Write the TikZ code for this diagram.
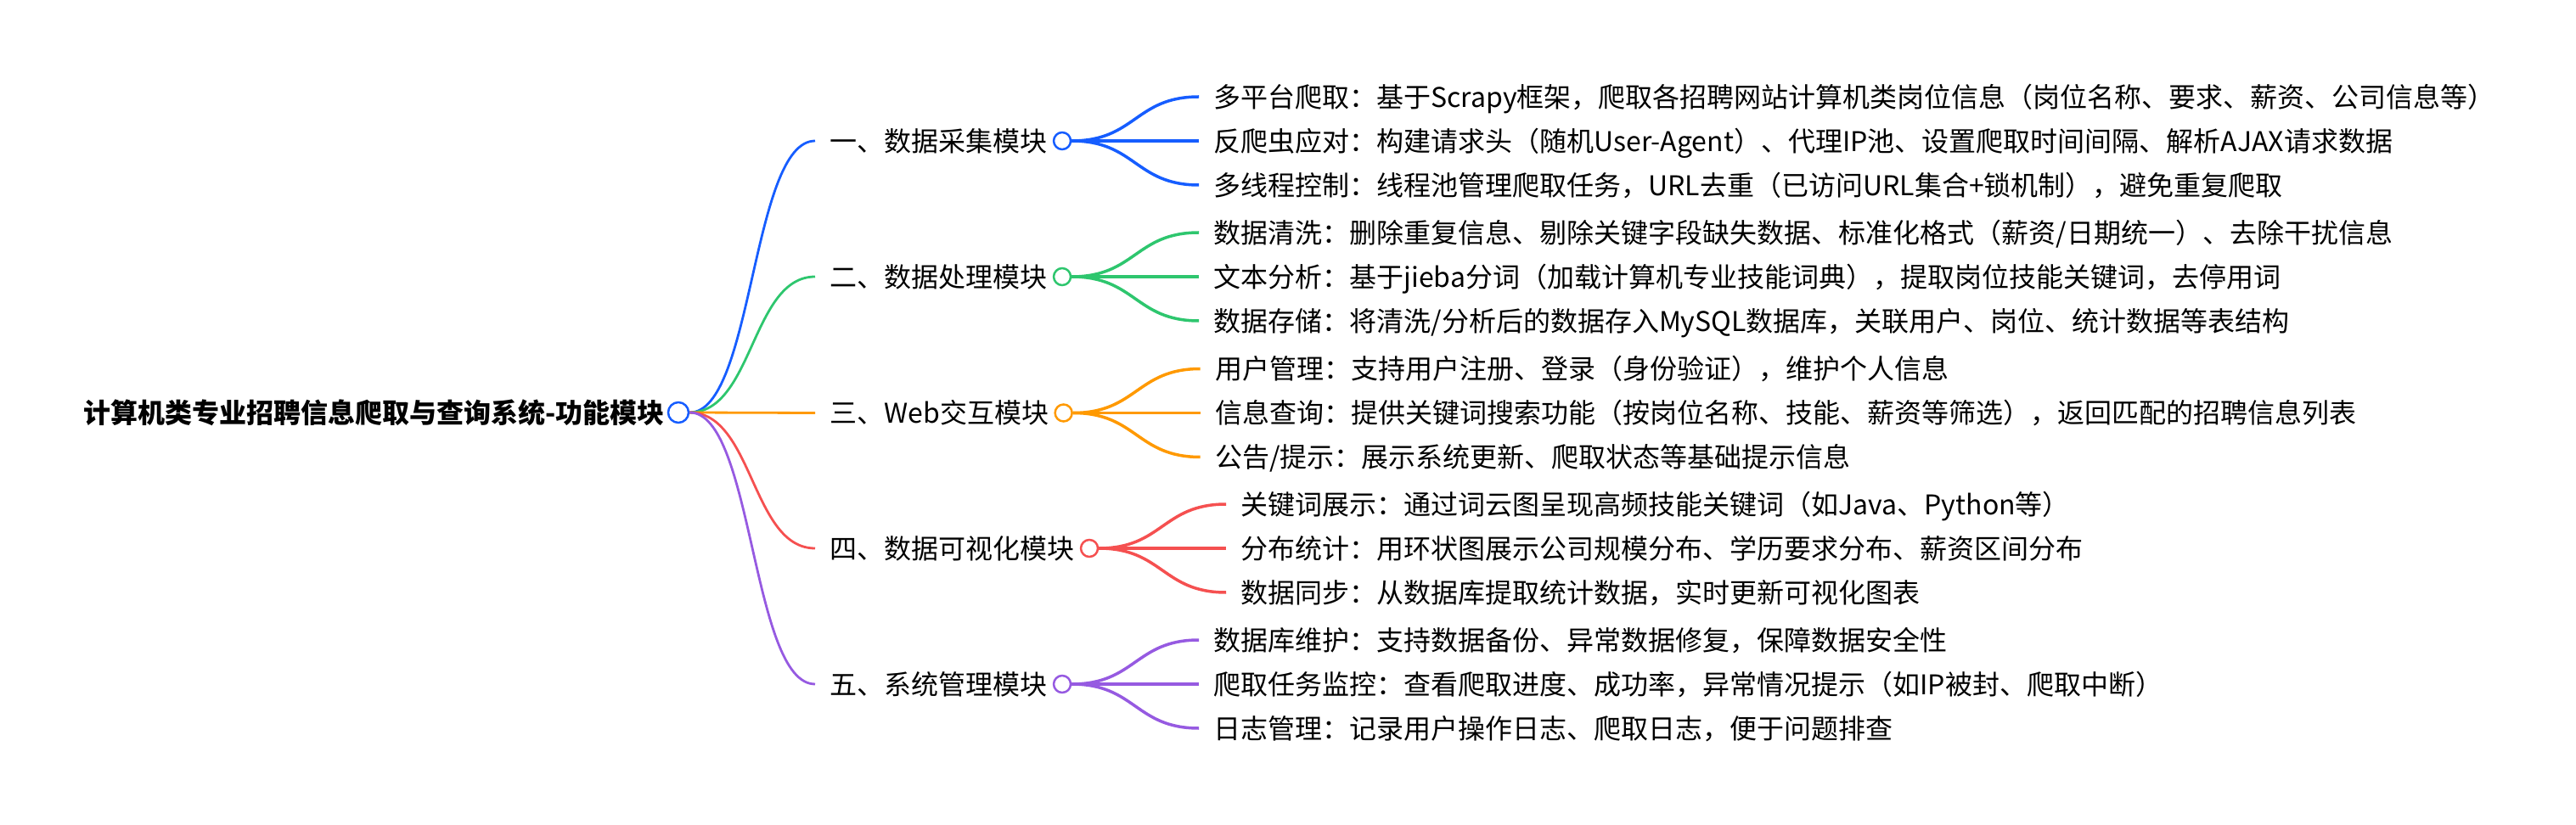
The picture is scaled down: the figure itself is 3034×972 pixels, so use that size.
\documentclass[tikz,border=0pt]{standalone}
\usepackage{fontspec}
\setmainfont{Noto Sans CJK SC}
\usetikzlibrary{positioning,calc}
\definecolor{brblue}{RGB}{22,93,255}
\definecolor{brgreen}{RGB}{46,198,110}
\definecolor{brorange}{RGB}{255,153,0}
\definecolor{brred}{RGB}{245,80,80}
\definecolor{brpurple}{RGB}{150,90,225}

\begin{document}
\begin{tikzpicture}[x=0.5pt,y=-0.5pt,font=\fontsize{16}{19}\selectfont,
  txt/.style={anchor=west,inner sep=0pt,text height=14pt,text depth=1.8pt},
  dot/.style={draw,circle,fill=white,line width=1.25pt,minimum size=10pt,inner sep=0pt},
  lnk/.style={line width=1.4pt},
  leaf/.style={line width=1.75pt}]
\useasboundingbox (0,0) rectangle (3034,972);
% root
\node[dot,draw=brblue,minimum size=12pt] (root) at (799,486) {};
\node[txt,anchor=east,font=\fontsize{16}{19}\selectfont\bfseries,left=1.5pt of root] (title) {计算机类专业招聘信息爬取与查询系统-功能模块};
% modules
\node[txt] (m1) at (977,166) {一、数据采集模块};
\node[txt] (m2) at (977,326) {二、数据处理模块};
\node[txt] (m3) at (977,486.5) {三、Web交互模块};
\node[txt] (m4) at (977,646) {四、数据可视化模块};
\node[txt] (m5) at (977,806) {五、系统管理模块};
\node[dot,draw=brblue,right=3pt of m1] (c1) {};
\node[dot,draw=brgreen,right=3pt of m2] (c2) {};
\node[dot,draw=brorange,right=3pt of m3] (c3) {};
\node[dot,draw=brred,right=3pt of m4] (c4) {};
\node[dot,draw=brpurple,right=3pt of m5] (c5) {};
% root links
\draw[lnk,brblue] (root.east) .. controls +(75,0) and +(-75,0) .. ([xshift=-8.5pt]m1.west);
\draw[lnk,brgreen] (root.east) .. controls +(75,0) and +(-75,0) .. ([xshift=-8.5pt]m2.west);
\draw[lnk,brorange] (root.east) -- ([xshift=-8.5pt]m3.west);
\draw[lnk,brred] (root.east) .. controls +(75,0) and +(-75,0) .. ([xshift=-8.5pt]m4.west);
\draw[lnk,brpurple] (root.east) .. controls +(75,0) and +(-75,0) .. ([xshift=-8.5pt]m5.west);
% branch 1
\node[txt] (l11) at ($(c1)+(178,-52)$) {多平台爬取：基于Scrapy框架，爬取各招聘网站计算机类岗位信息（岗位名称、要求、薪资、公司信息等）};
\node[txt] (l12) at ($(c1)+(178,0)$) {反爬虫应对：构建请求头（随机User-Agent）、代理IP池、设置爬取时间间隔、解析AJAX请求数据};
\node[txt] (l13) at ($(c1)+(178,52)$) {多线程控制：线程池管理爬取任务，URL去重（已访问URL集合+锁机制），避免重复爬取};
% branch 2
\node[txt] (l21) at ($(c2)+(178,-52)$) {数据清洗：删除重复信息、剔除关键字段缺失数据、标准化格式（薪资/日期统一）、去除干扰信息};
\node[txt] (l22) at ($(c2)+(178,0)$) {文本分析：基于jieba分词（加载计算机专业技能词典），提取岗位技能关键词，去停用词};
\node[txt] (l23) at ($(c2)+(178,52)$) {数据存储：将清洗/分析后的数据存入MySQL数据库，关联用户、岗位、统计数据等表结构};
% branch 3
\node[txt] (l31) at ($(c3)+(178,-52)$) {用户管理：支持用户注册、登录（身份验证），维护个人信息};
\node[txt] (l32) at ($(c3)+(178,0)$) {信息查询：提供关键词搜索功能（按岗位名称、技能、薪资等筛选），返回匹配的招聘信息列表};
\node[txt] (l33) at ($(c3)+(178,52)$) {公告/提示：展示系统更新、爬取状态等基础提示信息};
% branch 4
\node[txt] (l41) at ($(c4)+(178,-52)$) {关键词展示：通过词云图呈现高频技能关键词（如Java、Python等）};
\node[txt] (l42) at ($(c4)+(178,0)$) {分布统计：用环状图展示公司规模分布、学历要求分布、薪资区间分布};
\node[txt] (l43) at ($(c4)+(178,52)$) {数据同步：从数据库提取统计数据，实时更新可视化图表};
% branch 5
\node[txt] (l51) at ($(c5)+(178,-52)$) {数据库维护：支持数据备份、异常数据修复，保障数据安全性};
\node[txt] (l52) at ($(c5)+(178,0)$) {爬取任务监控：查看爬取进度、成功率，异常情况提示（如IP被封、爬取中断）};
\node[txt] (l53) at ($(c5)+(178,52)$) {日志管理：记录用户操作日志、爬取日志，便于问题排查};
% leaf links
\draw[leaf,brblue] (c1.east) .. controls +(75,0) and +(-75,0) .. ([xshift=-8.5pt]l11.west);
\draw[leaf,brblue] (c1.east) -- ([xshift=-8.5pt]l12.west);
\draw[leaf,brblue] (c1.east) .. controls +(75,0) and +(-75,0) .. ([xshift=-8.5pt]l13.west);
\draw[leaf,brgreen] (c2.east) .. controls +(75,0) and +(-75,0) .. ([xshift=-8.5pt]l21.west);
\draw[leaf,brgreen] (c2.east) -- ([xshift=-8.5pt]l22.west);
\draw[leaf,brgreen] (c2.east) .. controls +(75,0) and +(-75,0) .. ([xshift=-8.5pt]l23.west);
\draw[leaf,brorange] (c3.east) .. controls +(75,0) and +(-75,0) .. ([xshift=-8.5pt]l31.west);
\draw[leaf,brorange] (c3.east) -- ([xshift=-8.5pt]l32.west);
\draw[leaf,brorange] (c3.east) .. controls +(75,0) and +(-75,0) .. ([xshift=-8.5pt]l33.west);
\draw[leaf,brred] (c4.east) .. controls +(75,0) and +(-75,0) .. ([xshift=-8.5pt]l41.west);
\draw[leaf,brred] (c4.east) -- ([xshift=-8.5pt]l42.west);
\draw[leaf,brred] (c4.east) .. controls +(75,0) and +(-75,0) .. ([xshift=-8.5pt]l43.west);
\draw[leaf,brpurple] (c5.east) .. controls +(75,0) and +(-75,0) .. ([xshift=-8.5pt]l51.west);
\draw[leaf,brpurple] (c5.east) -- ([xshift=-8.5pt]l52.west);
\draw[leaf,brpurple] (c5.east) .. controls +(75,0) and +(-75,0) .. ([xshift=-8.5pt]l53.west);
\end{tikzpicture}
\end{document}
